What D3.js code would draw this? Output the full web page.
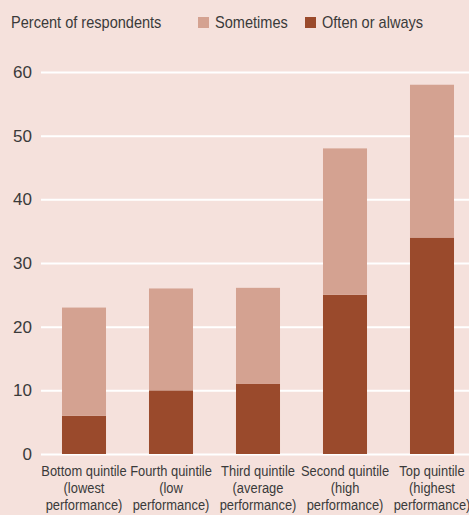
<!DOCTYPE html>
<html>
<head>
<meta charset="utf-8">
<script src="https://cdn.jsdelivr.net/npm/d3@7"></script>
<style>
  html, body { margin: 0; padding: 0; background: #f5e1dc; }
  svg { display: block; font-family: "Liberation Sans", Arial, sans-serif; }
</style>
</head>
<body>
<div id="chart"></div>
<script>
// Stacked bars - share of respondents by performance quintile

const categories = [
  ['Bottom quintile', '(lowest', 'performance)'],
  ['Fourth quintile', '(low', 'performance)'],
  ['Third quintile', '(average', 'performance)'],
  ['Second quintile', '(high', 'performance)'],
  ['Top quintile', '(highest', 'performance)']
];
const oftenValues = [6, 10, 11, 25, 34];
const sometimesValues = [17, 16, 15.1, 23, 24];
const yTicks = [0, 10, 20, 30, 40, 50, 60];

const seriesNames = ['Often or always', 'Sometimes'];
const colorMap = { 'Often or always': '#9a4a2c', 'Sometimes': '#d4a291' };

const width = 469, height = 515;
const svg = d3.select('#chart').append('svg')
  .attr('width', width)
  .attr('height', height);

svg.append('rect').attr('width', width).attr('height', height).attr('fill', '#f5e1dc');

const keys = categories.map(c => c[0]);
const rows = keys.map((k, i) => ({ key: k, 'Often or always': oftenValues[i], 'Sometimes': sometimesValues[i] }));
const stacked = d3.stack().keys(seriesNames)(rows);

const x = d3.scaleBand().domain(keys).range([40.5, 475.5]).paddingInner(0.494).paddingOuter(0.247);
const y = d3.scaleLinear().domain([0, 60]).range([454, 72]);

// gridlines + tick labels
const yAxis = svg.append('g')
  .attr('transform', 'translate(41,0)')
  .call(d3.axisLeft(y).tickValues(yTicks).tickSize(-440).tickPadding(9));
yAxis.select('.domain').remove();
yAxis.selectAll('line').attr('stroke', '#ffffff').attr('stroke-width', 2);
yAxis.selectAll('text')
  .attr('fill', '#3a3a3a')
  .attr('font-size', '17px')
  .attr('font-family', null);

// bars
svg.append('g').selectAll('g')
  .data(stacked)
  .join('g')
  .attr('fill', d => colorMap[d.key])
  .selectAll('rect')
  .data(d => d)
  .join('rect')
  .attr('x', d => x(d.data.key))
  .attr('width', x.bandwidth())
  .attr('y', d => y(d[1]))
  .attr('height', d => y(d[0]) - y(d[1]));

// category labels (condensed look via horizontal squeeze)
const xl = svg.append('g').selectAll('g')
  .data(categories)
  .join('g')
  .attr('transform', (d, i) => `translate(${x(keys[i]) + x.bandwidth() / 2},476) scale(0.89,1)`)
  .append('text')
  .attr('text-anchor', 'middle')
  .attr('fill', '#3a3a3a')
  .attr('font-size', '14.5px');
xl.selectAll('tspan')
  .data(d => d)
  .join('tspan')
  .attr('x', 0)
  .attr('dy', (d, i) => i === 0 ? 0 : 17)
  .text(d => d);

// title
svg.append('g')
  .attr('transform', 'translate(11,28) scale(0.91,1)')
  .append('text')
  .attr('fill', '#3a3a3a')
  .attr('font-size', '16px')
  .text('Percent of respondents');

// legend
const legendItems = [
  { name: 'Sometimes', x: 198 },
  { name: 'Often or always', x: 305 }
];
const lg = svg.append('g').selectAll('g')
  .data(legendItems)
  .join('g')
  .attr('transform', d => `translate(${d.x},17)`);
lg.append('rect').attr('width', 11).attr('height', 11).attr('fill', d => colorMap[d.name]);
lg.append('g')
  .attr('transform', 'translate(17,11) scale(0.91,1)')
  .append('text')
  .attr('fill', '#3a3a3a')
  .attr('font-size', '16px')
  .text(d => d.name);
</script>
</body>
</html>
